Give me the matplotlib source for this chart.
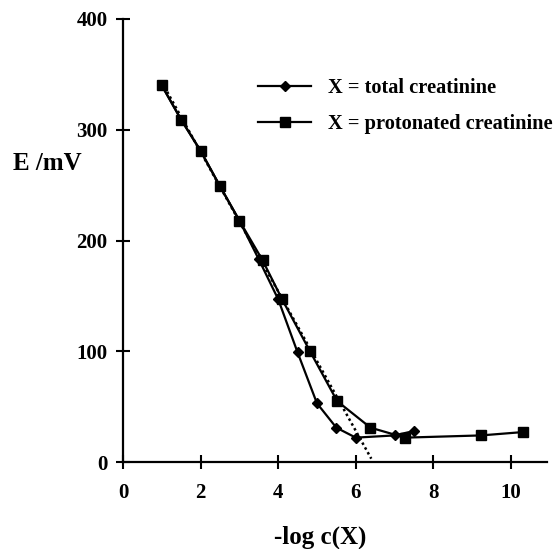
import matplotlib.pyplot as plt

plt.rcParams.update({
    "font.family": "serif",
    "font.serif": ["Liberation Serif", "DejaVu Serif"],
    "font.weight": "bold",
})

""" Data """
total_x = [1.0, 1.5, 2.0, 2.5, 3.0, 3.5, 4.0, 4.5, 5.0, 5.5, 6.0, 7.0, 7.5]
total_E = [340, 309, 281, 249, 218, 183, 147, 99, 53, 31, 22, 24, 28]
prot_x = [1.0, 1.5, 2.0, 2.5, 3.0, 3.6, 4.1, 4.82, 5.52, 6.38, 7.27, 9.23, 10.3]
prot_E = [340, 309, 281, 249, 218, 182, 147, 100, 55, 31, 22, 24, 27]
# nernstian fit line
fit_x = [1.0, 6.4]
fit_E = [343, 3]

x_ticks = [0, 2, 4, 6, 8, 10]
y_ticks = [0, 100, 200, 300, 400]

""" Plot """
fig = plt.figure(figsize=(5.56, 5.49), dpi=100)
ax = fig.add_axes([123 / 556, 87 / 549, 424 / 556, 443 / 549])

ax.plot(fit_x, fit_E, ls=(0, (1, 1.2)), c='k', lw=1.8)
ax.plot(total_x, total_E, '-D', c='k', lw=1.6, ms=5, label='X = total creatinine')
ax.plot(prot_x, prot_E, '-s', c='k', lw=1.6, ms=6.5, label='X = protonated creatinine')

ax.set_xlim(0, 10.93)
ax.set_ylim(0, 400)
ax.set_xticks(x_ticks)
ax.set_yticks(y_ticks)
for s in ['top', 'right']:
    ax.spines[s].set_visible(False)
for s in ['left', 'bottom']:
    ax.spines[s].set_linewidth(1.6)
ax.tick_params(direction='inout', length=10, width=1.5, labelsize=15)
ax.tick_params(axis='x', pad=10)
ax.tick_params(axis='y', pad=6)

ax.set_xlabel('-log c(X)', fontsize=18, fontweight='bold')
ax.xaxis.set_label_coords((320 - 123) / 424, -(537 - 462) / 443)
ax.xaxis.label.set_va('center')
fig.text(47 / 556, 1 - 164 / 549, 'E /mV', fontsize=18, fontweight='bold',
         ha='center', va='center')

ax.legend(loc='upper left', bbox_to_anchor=(258 / 556, 1 - 78 / 549),
          bbox_transform=fig.transFigure, frameon=False, fontsize=14.7,
          handlelength=2.6, handletextpad=0.85, labelspacing=0.8,
          borderpad=0, borderaxespad=0)

plt.savefig("out.png")
